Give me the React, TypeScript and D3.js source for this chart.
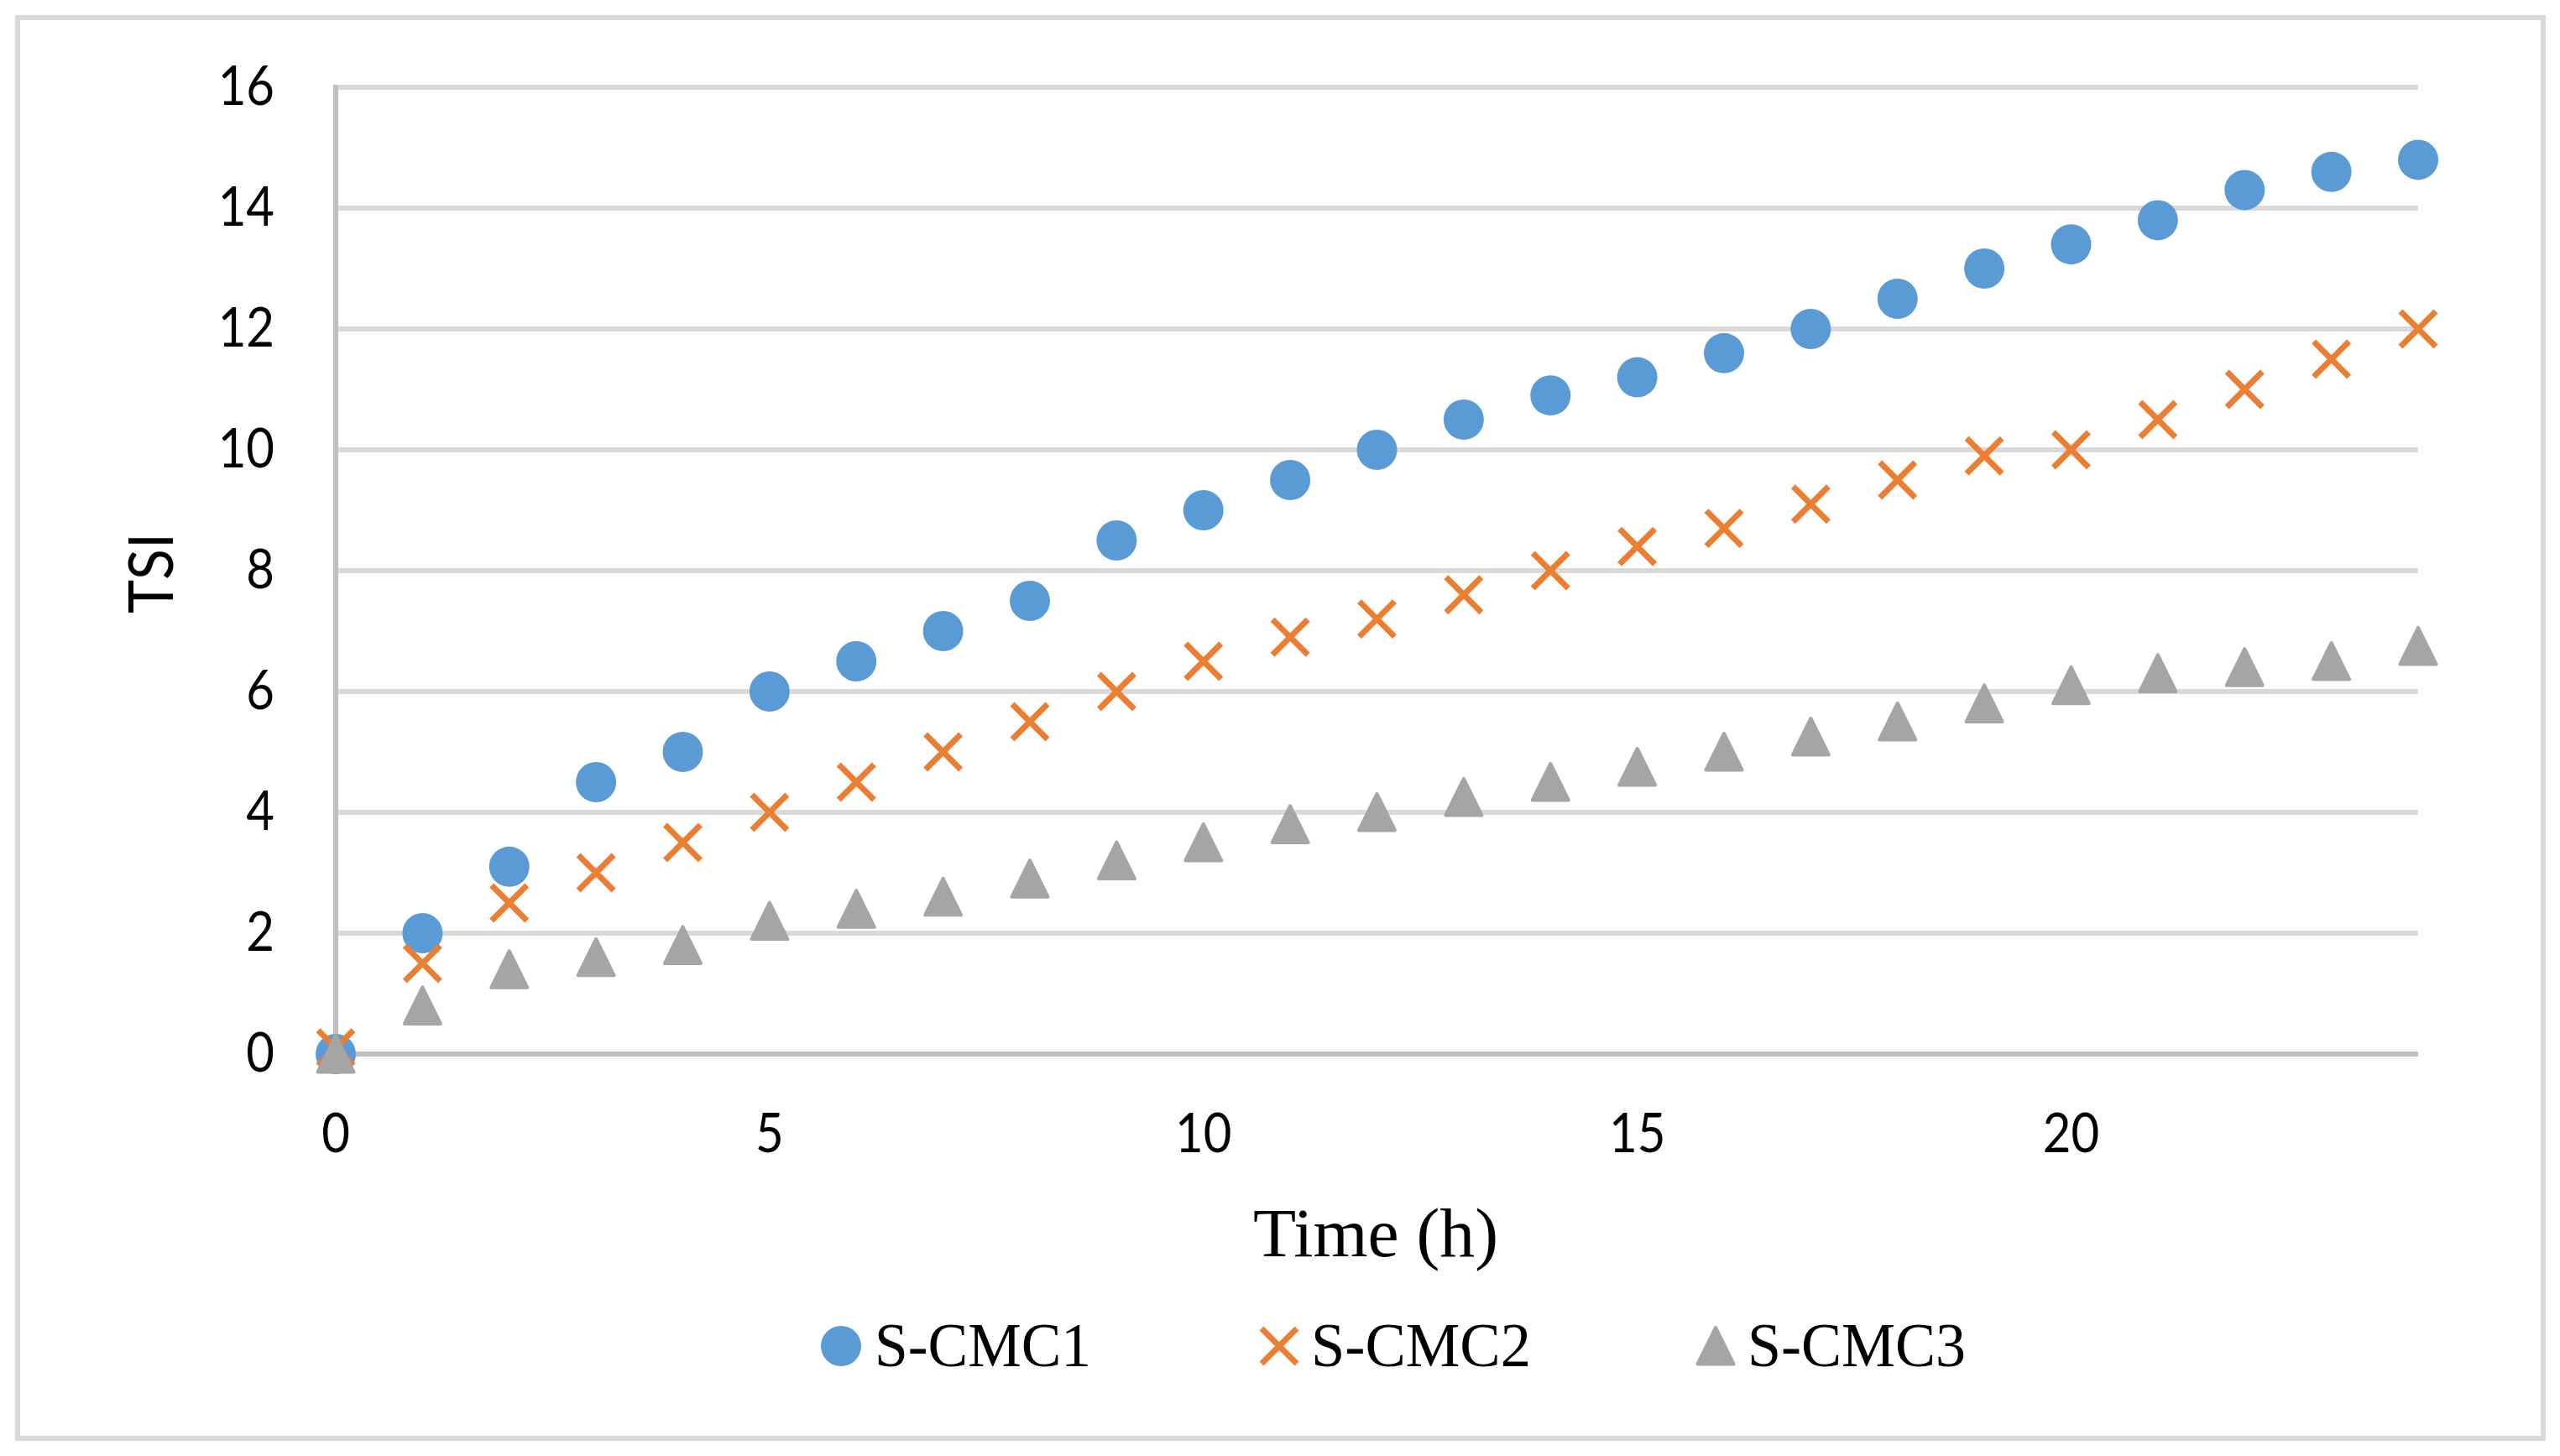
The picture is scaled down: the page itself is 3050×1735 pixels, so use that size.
import * as d3 from "d3";
import React from "react";

const hours = d3.range(0, 25);
const cmc1 = [0, 2.0, 3.1, 4.5, 5.0, 6.0, 6.5, 7.0, 7.5, 8.5, 9.0, 9.5, 10.0, 10.5, 10.9, 11.2, 11.6, 12.0, 12.5, 13.0, 13.4, 13.8, 14.3, 14.6, 14.8];
const cmc2 = [0.1, 1.5, 2.5, 3.0, 3.5, 4.0, 4.5, 5.0, 5.5, 6.0, 6.5, 6.9, 7.2, 7.6, 8.0, 8.4, 8.7, 9.1, 9.5, 9.9, 10.0, 10.5, 11.0, 11.5, 12.0];
const cmc3 = [0, 0.8, 1.4, 1.6, 1.8, 2.2, 2.4, 2.6, 2.9, 3.2, 3.5, 3.8, 4.0, 4.25, 4.5, 4.75, 5.0, 5.25, 5.5, 5.8, 6.1, 6.3, 6.4, 6.5, 6.75];
const seriesNames = ["S-CMC1", "S-CMC2", "S-CMC3"];
const xTicks = [0, 5, 10, 15, 20];
const yTicks = [0, 2, 4, 6, 8, 10, 12, 14, 16];

const W = 3050;
const H = 1735;
const blue = "#5b9bd5";
const orange = "#ed7d31";
const gray = "#a5a5a5";

const x = d3.scaleLinear().domain([0, 24]).range([400, 2881]);
const y = d3.scaleLinear().domain([0, 16]).range([1256, 104]);

const Circle = ({ cx, cy }: { cx: number; cy: number }) => (
  <circle cx={cx} cy={cy} r={24} fill={blue} />
);
const Cross = ({ cx, cy }: { cx: number; cy: number }) => {
  const s = 21;
  return (
    <path
      d={`M${cx - s},${cy - s}L${cx + s},${cy + s}M${cx - s},${cy + s}L${cx + s},${cy - s}`}
      stroke={orange}
      strokeWidth={7}
      fill="none"
    />
  );
};
const Tri = ({ cx, cy }: { cx: number; cy: number }) => (
  <path
    d={`M${cx},${cy - 22}L${cx + 21.5},${cy + 21.5}L${cx - 21.5},${cy + 21.5}Z`}
    fill={gray}
    stroke={gray}
    strokeWidth={4}
    strokeLinejoin="round"
  />
);

export default function App() {
  const sans = "Lato, 'Open Sans', sans-serif";
  const serif = "'Liberation Serif', 'Times New Roman', serif";
  return (
    <svg
      width={W}
      height={H}
      style={{ position: "absolute", left: 0, top: 0, background: "#fff" }}
    >
      <rect x={0} y={0} width={W} height={H} fill="#fff" />
      <rect x={21} y={21} width={3009} height={1693} fill="none" stroke="#d9d9d9" strokeWidth={6} />

      {/* gridlines */}
      {yTicks.filter((t) => t > 0).map((t) => (
        <line key={t} x1={x(0)} x2={x(24)} y1={y(t)} y2={y(t)} stroke="#d9d9d9" strokeWidth={6} />
      ))}
      <line x1={x(0)} x2={x(24)} y1={y(0)} y2={y(0)} stroke="#bfbfbf" strokeWidth={6} />
      <line x1={x(0)} x2={x(0)} y1={y(16) - 3} y2={y(0)} stroke="#bfbfbf" strokeWidth={6} />

      {/* y tick labels */}
      {yTicks.map((t) => (
        <text
          key={t}
          transform={`translate(327,${y(t) + 21}) scale(0.88,1)`}
          textAnchor="end"
          fontFamily={sans}
          fontSize={66}
          fill="#000"
        >
          {t}
        </text>
      ))}
      {/* x tick labels */}
      {xTicks.map((t) => (
        <text
          key={t}
          transform={`translate(${x(t)},1373) scale(0.88,1)`}
          textAnchor="middle"
          fontFamily={sans}
          fontSize={66}
          fill="#000"
        >
          {t}
        </text>
      ))}

      <text
        transform={`translate(206,683) rotate(-90) scale(0.92,1)`}
        textAnchor="middle"
        fontFamily={sans}
        fontSize={74}
        fill="#000"
      >
        TSI
      </text>
      <text x={1493} y={1497} fontFamily={serif} fontSize={83} textLength={292} lengthAdjust="spacingAndGlyphs" fill="#000">
        Time (h)
      </text>

      {/* series */}
      {hours.map((h, i) => <Circle key={"a" + h} cx={x(h)} cy={y(cmc1[i])} />)}
      {hours.map((h, i) => <Cross key={"b" + h} cx={x(h)} cy={y(cmc2[i])} />)}
      {hours.map((h, i) => <Tri key={"c" + h} cx={x(h)} cy={y(cmc3[i])} />)}

      {/* legend */}
      <Circle cx={1002} cy={1604} />
      <text x={1042} y={1628} fontFamily={serif} fontSize={75} textLength={258} lengthAdjust="spacingAndGlyphs">{seriesNames[0]}</text>
      <Cross cx={1524} cy={1604} />
      <text x={1562} y={1628} fontFamily={serif} fontSize={75} textLength={262} lengthAdjust="spacingAndGlyphs">{seriesNames[1]}</text>
      <Tri cx={2044} cy={1604} />
      <text x={2082} y={1628} fontFamily={serif} fontSize={75} textLength={260} lengthAdjust="spacingAndGlyphs">{seriesNames[2]}</text>
    </svg>
  );
}
